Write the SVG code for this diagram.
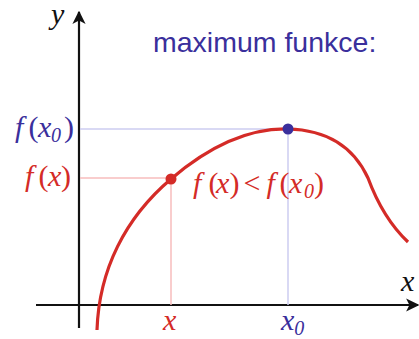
<svg xmlns="http://www.w3.org/2000/svg" width="419" height="339" viewBox="0 0 419 339">
<style>
text.m{font-family:'Liberation Serif','Times New Roman',serif;font-style:italic;font-size:30px}
.u{font-style:normal}
.s{font-size:20px}
.r{fill:#d42b27}.b{fill:#3a2f9c}
.ax{stroke:#111;stroke-width:2.2;fill:none}
</style>
<defs>
<marker id="ah" viewBox="0 0 10 10" refX="9" refY="5" markerWidth="6" markerHeight="6" orient="auto" markerUnits="strokeWidth"><path d="M0,0 L10,5 L0,10 L2.5,5 Z" fill="#111"/></marker>
</defs>
<rect width="419" height="339" fill="#fff"/>
<g id="connectors">
<line class="ax" x1="79" y1="328" x2="79" y2="12" marker-end="url(#ah)"/>
<line class="ax" x1="36" y1="305" x2="418" y2="305" marker-end="url(#ah)"/>
<line x1="80" y1="129" x2="288" y2="129" stroke="#cdcdf0" stroke-width="1.5"/>
<line x1="288" y1="129" x2="288" y2="305" stroke="#cdcdf0" stroke-width="1.5"/>
<line x1="80" y1="178" x2="171" y2="178" stroke="#f7bcbc" stroke-width="1.5"/>
<line x1="171" y1="178" x2="171" y2="305" stroke="#f7bcbc" stroke-width="1.5"/>
<path d="M97,330 C99,270 125,218 171,179 C205,150 245,128 288,129 C330,130 355,150 368,178 C378,205 390,225 408,242" fill="none" stroke="#d42b27" stroke-width="3.2"/>
</g>
<g id="max-point"><circle cx="288" cy="129" r="5.5" class="b"/></g>
<g id="pt"><circle cx="171" cy="179" r="5.5" class="r"/></g>
<g id="labels">
<text class="m" x="51" y="24" fill="#111">y</text>
<text x="153" y="52" font-family="'Liberation Sans',Arial,sans-serif" font-size="28.5" class="b">maximum funkce:</text>
<text class="m b" y="137"><tspan x="15">f</tspan><tspan x="28.5" class="u">(</tspan><tspan x="38">x</tspan><tspan x="51" dy="5" class="s">0</tspan><tspan x="64" dy="-5" class="u">)</tspan></text>
<text class="m r" y="186"><tspan x="25">f</tspan><tspan x="38.5" class="u">(</tspan><tspan x="48">x</tspan><tspan x="61" class="u">)</tspan></text>
<text class="m r" y="193"><tspan x="193">f</tspan><tspan x="208.5" class="u">(</tspan><tspan x="216">x</tspan><tspan x="229.5" class="u">)</tspan><tspan x="243.5" class="u">&lt;</tspan><tspan x="266.5">f</tspan><tspan x="279.5" class="u">(</tspan><tspan x="289">x</tspan><tspan x="304" dy="5" class="s">0</tspan><tspan x="314" dy="-5" class="u">)</tspan></text>
<text class="m r" x="163" y="330">x</text>
<text class="m b" x="281" y="330">x<tspan class="s" dy="5">0</tspan></text>
<text class="m" x="401" y="291" fill="#111">x</text>
</g>
</svg>
